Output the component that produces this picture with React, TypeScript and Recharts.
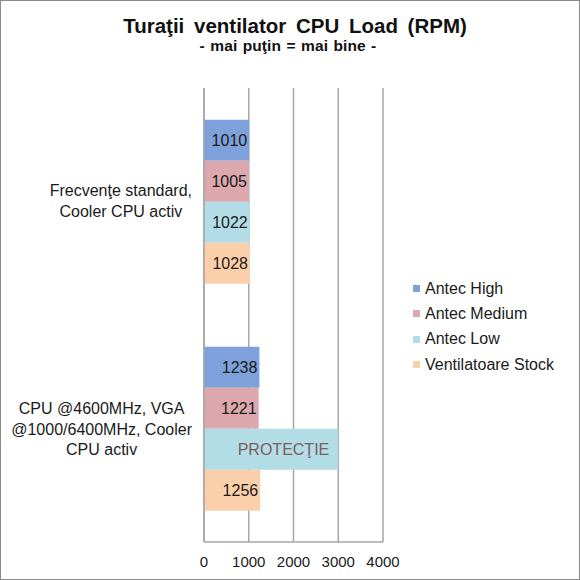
import React from "react"
import { Bar, BarChart, XAxis, YAxis, CartesianGrid, Legend, LabelList } from "recharts"

// categories (each line of the wrapped label split by \n)
const categories = [
  "Frecvenţe standard,\nCooler CPU activ",
  "CPU @4600MHz, VGA\n@1000/6400MHz, Cooler\nCPU activ",
]

const antecHigh = [1010, 1238]
const antecMedium = [1005, 1221]
// second value is a placeholder bar shown as "PROTECŢIE"
const antecLow = [1022, 3000]
const stock = [1028, 1256]
const antecLowLabels = ["1022", "PROTECŢIE"]

const xTicks = [0, 1000, 2000, 3000, 4000]

const seriesNames = ["Antec High", "Antec Medium", "Antec Low", "Ventilatoare Stock"]
const colors = ["#7fa1db", "#dca8ad", "#b2dce6", "#fbcfaa"]

const data = categories.map((name, i) => ({
  name,
  "Antec High": antecHigh[i],
  "Antec Medium": antecMedium[i],
  "Antec Low": antecLow[i],
  "Ventilatoare Stock": stock[i],
  lowLabel: antecLowLabels[i],
}))

const FONT = "Liberation Sans, Arial, sans-serif"

let ctx: CanvasRenderingContext2D | null = null
function measure(text: string) {
  if (!ctx) ctx = document.createElement("canvas").getContext("2d")
  if (!ctx) return text.length * 8
  ctx.font = `16px ${FONT}`
  return ctx.measureText(text).width
}

function CategoryTick(props: any) {
  const { y, payload } = props
  const lines: string[] = String(payload.value).split("\n")
  const w = Math.max(...lines.map(measure))
  // label block right-aligned just left of the axis line (x = 204)
  const cx = 192 - w / 2
  const lh = 20.5
  const y0 = y - ((lines.length - 1) * lh) / 2 + 5 + (lines.length - 2)
  return (
    <text x={cx} y={y0} textAnchor="middle" fontSize={16} fontFamily={FONT} fill="#1a1a1a">
      {lines.map((l, i) => (
        <tspan key={i} x={cx} y={y0 + i * lh}>
          {l}
        </tspan>
      ))}
    </text>
  )
}

function LegendContent() {
  return (
    <div style={{ fontFamily: FONT, fontSize: 16, color: "#1a1a1a" }}>
      {seriesNames.map((n, i) => (
        <div key={n} style={{ display: "flex", alignItems: "center", height: 25.3 }}>
          <span style={{ width: 7, height: 7, background: colors[i], marginRight: 5 }} />
          {n}
        </div>
      ))}
    </div>
  )
}

function LowLabel(props: any) {
  const { x, y, width, height, index } = props
  const text = antecLowLabels[index]
  const prot = text === "PROTECŢIE"
  return (
    <text
      x={x + width - (prot ? 9 : 2)}
      y={y + height / 2 + 6}
      textAnchor="end"
      fontSize={16}
      fontFamily={FONT}
      fill={prot ? "#7a5c5c" : "#1a1a1a"}
    >
      {text}
    </text>
  )
}

export default function App() {
  return (
    <div
      style={{
        position: "absolute",
        left: 0,
        top: 0,
        width: 580,
        height: 580,
        border: "1px solid #8a8a8a",
        boxSizing: "border-box",
        background: "#fff",
        overflow: "hidden",
      }}
    >
      <div
        style={{
          position: "absolute",
          left: 0,
          width: 580,
          top: 13,
          textAlign: "center",
          fontFamily: FONT,
          fontWeight: "bold",
          fontSize: 20.5,
          color: "#111",
          paddingLeft: 8,
          boxSizing: "border-box",
          wordSpacing: 4,
        }}
      >
        Turaţii ventilator CPU Load (RPM)
      </div>
      <div
        style={{
          position: "absolute",
          left: 0,
          width: 580,
          top: 36,
          textAlign: "center",
          fontFamily: FONT,
          fontWeight: "bold",
          fontSize: 15.5,
          color: "#111",
          wordSpacing: 1,
          letterSpacing: 0.1,
          paddingRight: 6,
          boxSizing: "border-box",
        }}
      >
        - mai puţin = mai bine -
      </div>
      <div style={{ position: "absolute", left: -1, top: -1 }}>
        <BarChart
          width={580}
          height={580}
          data={data}
          layout="vertical"
          margin={{ top: 88, right: 197, bottom: 8, left: 0 }}
          barCategoryGap="14%"
          barGap={0}
        >
          <CartesianGrid horizontal={false} vertical stroke="#a6a6a6" strokeWidth={1.5} />
          <XAxis
            type="number"
            domain={[0, 4000]}
            ticks={xTicks}
            interval={0}
            height={30}
            tickLine={false}
            axisLine={{ stroke: "#a6a6a6", strokeWidth: 1.5 }}
            tick={{ fontSize: 15, fontFamily: FONT, fill: "#1a1a1a" }}
            tickMargin={8}
          />
          <YAxis
            type="category"
            dataKey="name"
            width={204}
            tickLine={false}
            axisLine={{ stroke: "#a6a6a6", strokeWidth: 1.5 }}
            tick={<CategoryTick />}
          />
          <Legend
            layout="vertical"
            align="center"
            verticalAlign="middle"
            content={<LegendContent />}
            wrapperStyle={{ left: 413, top: 276, width: 170 }}
          />
          {seriesNames.map((key, i) => (
            <Bar key={key} dataKey={key} fill={colors[i]} isAnimationActive={false}>
              {key === "Antec Low" ? (
                <LabelList dataKey={key} content={<LowLabel />} />
              ) : (
                <LabelList
                  dataKey={key}
                  position="insideRight"
                  offset={2}
                  style={{ fontSize: 16, fontFamily: FONT, fill: "#1a1a1a" }}
                />
              )}
            </Bar>
          ))}
        </BarChart>
      </div>
    </div>
  )
}
